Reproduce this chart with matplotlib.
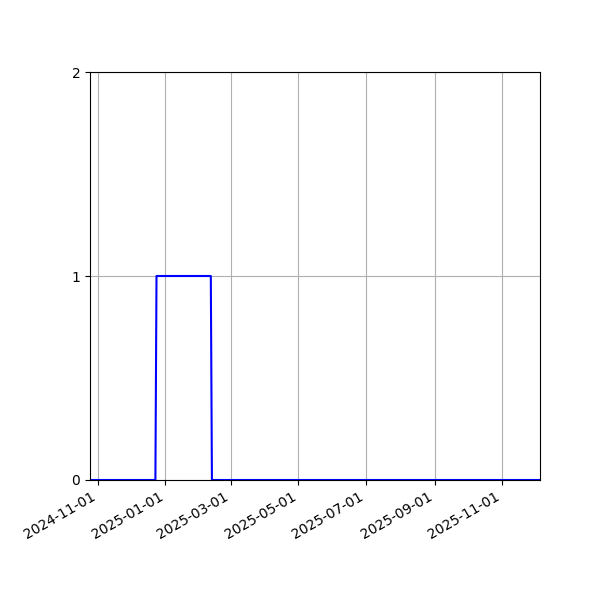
import matplotlib
matplotlib.use("Agg")
import matplotlib.pyplot as plt
import matplotlib.dates as mdates
import pandas as pd

# change points of the series (one-day ramps between states)
dates = ["2024-10-25", "2024-12-23", "2024-12-24", "2025-02-11", "2025-02-12", "2025-12-05"]
values = [0, 0, 1, 1, 0, 0]
y_ticks = [0, 1, 2]

x = pd.to_datetime(dates)

fig, ax = plt.subplots(figsize=(6, 6), dpi=100)
ax.plot(x, values, color="blue")
ax.set_xlim(x[0], x[-1])
ax.set_ylim(0, 2)
ax.set_yticks(y_ticks)
ax.xaxis.set_major_locator(mdates.MonthLocator(bymonth=[1, 3, 5, 7, 9, 11]))
ax.xaxis.set_major_formatter(mdates.DateFormatter("%Y-%m-%d"))
ax.grid(True)
fig.autofmt_xdate()
fig.subplots_adjust(left=0.15, right=0.9, top=0.88, bottom=0.2)
fig.savefig("out.png")
